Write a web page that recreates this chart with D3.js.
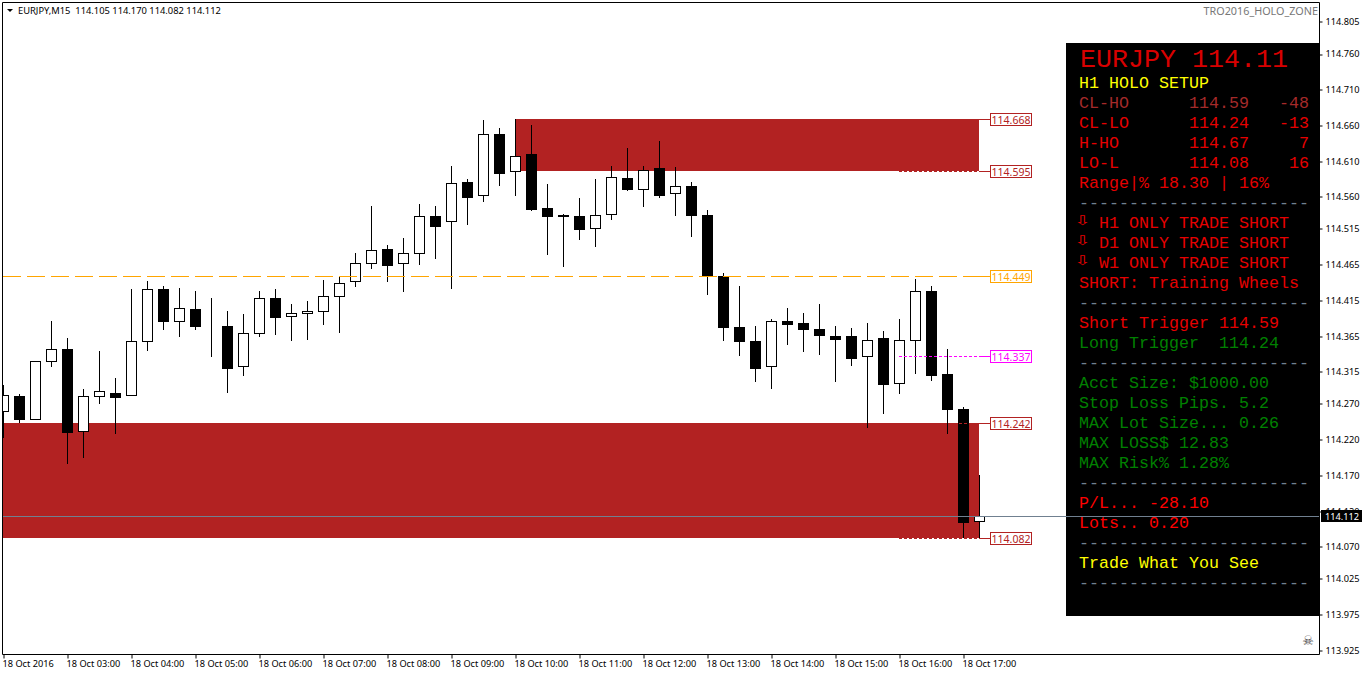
<!DOCTYPE html>
<html><head><meta charset="utf-8">
<script src="https://cdnjs.cloudflare.com/ajax/libs/d3/7.8.5/d3.min.js"></script>
<style>html,body{margin:0;padding:0;background:#fff;overflow:hidden}svg{display:block}</style>
</head><body><svg id="c" width="1362" height="675"></svg>
<script>
const opens=[114.260,114.281,114.249,114.329,114.347,114.232,114.281,114.285,114.282,114.358,114.431,114.386,114.403,114.379,114.379,114.323,114.369,114.418,114.393,114.397,114.400,114.420,114.441,114.467,114.487,114.467,114.481,114.533,114.525,114.581,114.562,114.648,114.596,114.620,114.544,114.534,114.533,114.516,114.536,114.586,114.571,114.600,114.565,114.575,114.534,114.449,114.377,114.358,114.323,114.386,114.383,114.375,114.365,114.365,114.337,114.362,114.299,114.359,114.427,114.312,114.263,114.105];
const highs=[114.296,114.284,114.329,114.386,114.362,114.291,114.343,114.306,114.431,114.442,114.434,114.432,114.428,114.418,114.400,114.396,114.428,114.431,114.410,114.414,114.443,114.448,114.481,114.546,114.492,114.502,114.550,114.547,114.603,114.585,114.667,114.656,114.669,114.660,114.578,114.536,114.558,114.585,114.603,114.628,114.603,114.638,114.602,114.581,114.541,114.453,114.435,114.379,114.389,114.404,114.397,114.410,114.379,114.376,114.383,114.372,114.389,114.445,114.435,114.347,114.265,114.170];
const lows=[114.223,114.244,114.249,114.323,114.187,114.195,114.271,114.229,114.282,114.345,114.375,114.365,114.375,114.336,114.286,114.310,114.364,114.368,114.359,114.361,114.382,114.370,114.434,114.460,114.442,114.427,114.466,114.474,114.432,114.522,114.554,114.576,114.562,114.541,114.480,114.462,114.501,114.490,114.529,114.569,114.546,114.560,114.534,114.505,114.424,114.359,114.338,114.302,114.292,114.354,114.344,114.340,114.302,114.324,114.237,114.257,114.285,114.313,114.303,114.229,114.083,114.082];
const closes=[114.282,114.249,114.329,114.347,114.230,114.281,114.288,114.279,114.357,114.431,114.385,114.404,114.379,114.379,114.320,114.369,114.418,114.391,114.397,114.400,114.420,114.439,114.467,114.485,114.464,114.481,114.533,114.519,114.579,114.560,114.648,114.593,114.617,114.543,114.533,114.532,114.515,114.534,114.588,114.571,114.597,114.562,114.575,114.534,114.449,114.377,114.358,114.320,114.386,114.382,114.375,114.366,114.361,114.334,114.359,114.298,114.359,114.428,114.310,114.263,114.104,114.112];
const priceTicks=[114.805,114.760,114.710,114.660,114.610,114.560,114.515,114.465,114.415,114.365,114.315,114.270,114.220,114.170,114.120,114.070,114.025,113.975,113.925];
const timeTickIndex=[0,4,8,12,16,20,24,28,32,36,40,44,48,52,56,60];
const timeLabels=["18 Oct 2016","18 Oct 03:00","18 Oct 04:00","18 Oct 05:00","18 Oct 06:00","18 Oct 07:00","18 Oct 08:00","18 Oct 09:00","18 Oct 10:00","18 Oct 11:00","18 Oct 12:00","18 Oct 13:00","18 Oct 14:00","18 Oct 15:00","18 Oct 16:00","18 Oct 17:00"];
const zonePrices=[[114.668,114.595,32],[114.242,114.082,0]];
const levelPrices=[114.668,114.595,114.449,114.337,114.242,114.082];
const levelColors=["#b22222","#b22222","#ffa500","#ff00ff","#b22222","#b22222"];
const bid=114.112;
const panelLines=[
 ["H1 HOLO SETUP","#ffff00"],
 ["CL-HO      114.59   -48","#a52a2a"],
 ["CL-LO      114.24   -13","#e60000"],
 ["H-HO       114.67     7","#e60000"],
 ["LO-L       114.08    16","#e60000"],
 ["Range|% 18.30 | 16%","#e60000"],
 ["-----------------------","#708090"],
 ["H1 ONLY TRADE SHORT","#e60000"],
 ["D1 ONLY TRADE SHORT","#e60000"],
 ["W1 ONLY TRADE SHORT","#e60000"],
 ["SHORT: Training Wheels","#e60000"],
 ["-----------------------","#708090"],
 ["Short Trigger 114.59","#e60000"],
 ["Long Trigger  114.24","#008000"],
 ["-----------------------","#708090"],
 ["Acct Size: $1000.00","#008000"],
 ["Stop Loss Pips. 5.2","#008000"],
 ["MAX Lot Size... 0.26","#008000"],
 ["MAX LOSS$ 12.83","#008000"],
 ["MAX Risk% 1.28%","#008000"],
 ["-----------------------","#708090"],
 ["P/L... -28.10","#ff0000"],
 ["Lots.. 0.20","#ff0000"],
 ["-----------------------","#708090"],
 ["Trade What You See","#ffff00"],
 ["-----------------------","#708090"]
];
const arrowRows=[7,8,9];

const svg=d3.select("#c");
const L=2.5,T=2.5,R=1319.5,B=654.5;
const y=d3.scaleLinear().domain([113.925,114.760]).range([650.4,54]);
const x=d3.scaleLinear().domain([0,61]).range([3.5,979.5]);
const py=v=>Math.floor(y(v))+0.5;
const cy=v=>Math.round(y(v)-.35)+0.5;
const sans="'Noto Sans',sans-serif";
const mono="'Liberation Mono',monospace";
svg.append("defs").append("clipPath").attr("id","plot").append("rect").attr("x",3).attr("y",3).attr("width",1316).attr("height",651);
const plot=svg.append("g").attr("clip-path","url(#plot)");

// zones
plot.selectAll(".zone").data(zonePrices).join("rect").attr("class","zone")
 .attr("x",d=>Math.floor(x(d[2]))).attr("width",d=>Math.floor(x(61))-Math.floor(x(d[2])))
 .attr("y",d=>Math.floor(y(d[0]))).attr("height",d=>Math.floor(y(d[1]))-Math.floor(y(d[0])))
 .attr("fill","#b22222");

// candles
const idx=d3.range(opens.length);
const cg=plot.append("g");
cg.selectAll("line").data(idx).join("line")
 .attr("x1",i=>x(i)).attr("x2",i=>x(i)).attr("y1",i=>cy(highs[i])-.5).attr("y2",i=>cy(lows[i])+.5)
 .attr("stroke","#000");
cg.selectAll("rect").data(idx).join("rect")
 .attr("x",i=>x(i)-5).attr("width",10)
 .attr("y",i=>cy(Math.max(opens[i],closes[i])))
 .attr("height",i=>Math.max(cy(Math.min(opens[i],closes[i]))-cy(Math.max(opens[i],closes[i])),0))
 .attr("fill",i=>closes[i]>=opens[i]?"#fff":"#000").attr("stroke","#000");

// level lines
const lg=svg.append("g");
lg.append("line").attr("x1",3).attr("x2",990).attr("y1",py(levelPrices[2])).attr("y2",py(levelPrices[2]))
 .attr("stroke","#ffa500").attr("stroke-dasharray","18 6");
[0,1,3,4,5].forEach(k=>{
 lg.append("line").attr("x1",899).attr("x2",979).attr("y1",py(levelPrices[k])).attr("y2",py(levelPrices[k]))
  .attr("stroke",levelColors[k]).attr("stroke-dasharray","3 2");
});
const bg=svg.append("g");
levelPrices.forEach((v,k)=>{
 const yy=py(v),c=levelColors[k];
 bg.append("line").attr("x1",979).attr("x2",990).attr("y1",yy).attr("y2",yy).attr("stroke",c);
 bg.append("rect").attr("x",990.5).attr("y",yy-6).attr("width",41).attr("height",12).attr("fill","#fff").attr("stroke",c);
 bg.append("text").attr("x",1011).attr("y",yy+4).attr("text-anchor","middle").attr("font-family",sans).attr("font-size",10.5).attr("fill",c).text(v.toFixed(3));
});

// panel
svg.append("rect").attr("x",1066).attr("y",43).attr("width",253).attr("height",573).attr("fill","#000");
svg.append("text").attr("x",1080).attr("y",67).attr("font-family",mono).attr("font-size",26.67).attr("fill","#d80000").text("EURJPY 114.11");
svg.append("g").selectAll("text").data(panelLines).join("text")
 .attr("x",(d,i)=>arrowRows.includes(i)?1099:1079).attr("y",(d,i)=>88+20*i).attr("font-family",mono).attr("font-size",16.67)
 .attr("fill",d=>d[1]).style("white-space","pre").text(d=>d[0]);
svg.append("g").selectAll("text").data(arrowRows).join("text")
 .attr("transform",d=>`translate(1074,${88+20*d-3}) scale(1,.65)`).attr("font-family","'DejaVu Sans'").attr("font-size",20)
 .attr("fill","#e60000").text("\u21E9");

// frame
svg.append("path").attr("d",`M${L},${B}V${T}H${R}V${B}H${L}`).attr("fill","none").attr("stroke","#000");

// axes
const ax=svg.append("g").attr("transform",`translate(${R},0)`).call(d3.axisRight(y).tickValues(priceTicks).tickSize(3).tickPadding(3).tickFormat(d3.format(".3f")));
const bx=svg.append("g").attr("transform",`translate(0,${B})`).call(d3.axisBottom(x).tickValues(timeTickIndex).tickSize(4).tickPadding(2).tickFormat((d,i)=>timeLabels[i]));
[ax,bx].forEach(g=>{g.select(".domain").remove();g.selectAll("line").attr("stroke","#000");g.selectAll("text").attr("font-family",sans).attr("font-size",9.2).attr("fill","#000");});
ax.selectAll("line").attr("y1",d=>Math.floor(y(d))+.5-y(d)).attr("y2",d=>Math.floor(y(d))+.5-y(d));
bx.selectAll("text").attr("text-anchor","start").attr("dx",-1.5);

// bid line and label
const by=py(bid);
svg.append("line").attr("x1",3).attr("x2",1319).attr("y1",by).attr("y2",by).attr("stroke","#708090");
svg.append("rect").attr("x",1321).attr("y",by-6.5).attr("width",41).attr("height",12).attr("fill","#000");
svg.append("text").attr("x",1325).attr("y",by+3.5).attr("font-family",sans).attr("font-size",9.2).attr("fill","#fff").text(bid.toFixed(3));

// header
svg.append("path").attr("d","M7,9H13L10,12Z").attr("fill","#000");
svg.append("text").attr("x",18).attr("y",14).attr("font-family",sans).attr("font-size",9.36).attr("fill","#000").style("white-space","pre")
 .text(`EURJPY,M15  ${opens[61].toFixed(3)} ${highs[61].toFixed(3)} ${lows[61].toFixed(3)} ${closes[61].toFixed(3)}`);
svg.append("text").attr("x",1318).attr("y",15).attr("text-anchor","end").attr("font-family",sans).attr("font-size",10.8).attr("fill","#777").text("TRO2016_HOLO_ZONE");
svg.append("text").attr("x",1308).attr("y",645).attr("text-anchor","middle").attr("font-family","'DejaVu Sans'").attr("font-size",13).attr("fill","#444").text("\u2620");
</script></body></html>
